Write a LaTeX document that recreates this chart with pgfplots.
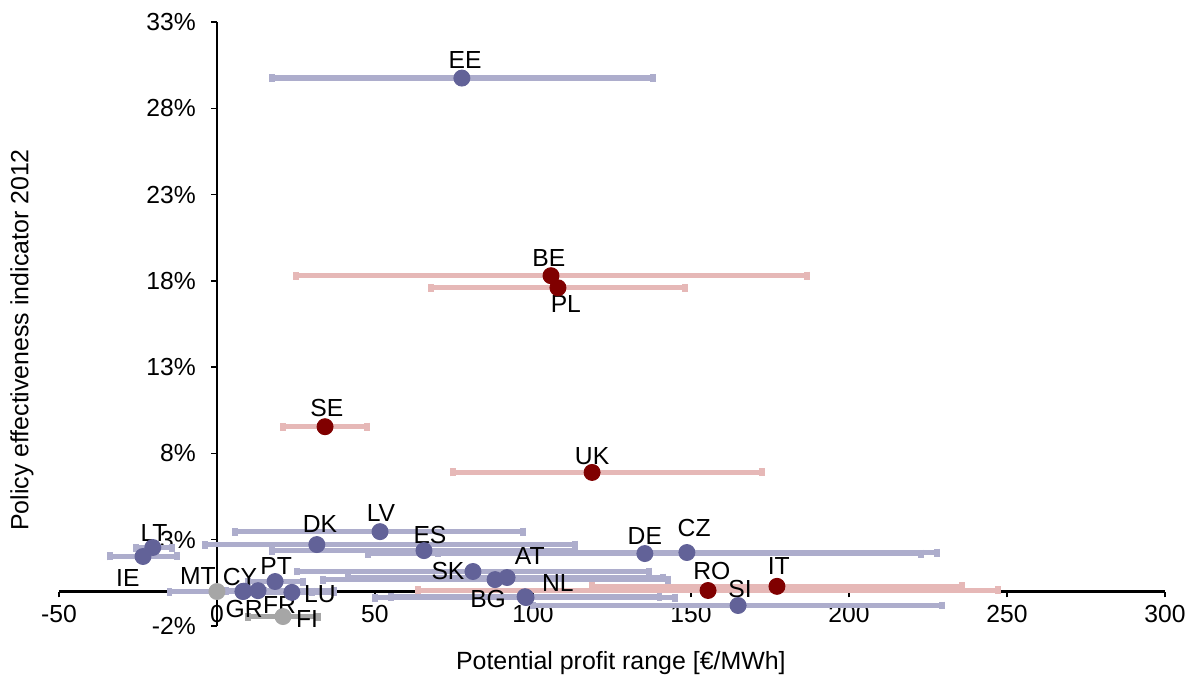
\documentclass[border=0pt]{standalone}
\usepackage{fontspec}
\setmainfont{Liberation Sans}
\usepackage{pgfplots}
\usepackage{pgfplotstable}
\pgfplotsset{compat=1.18}
\definecolor{bluept}{RGB}{98,98,152}
\definecolor{bluebar}{RGB}{173,173,204}
\definecolor{redpt}{RGB}{128,0,0}
\definecolor{redbar}{RGB}{230,184,183}
\definecolor{greypt}{RGB}{166,166,166}

% x y em ep  (horizontal range = x-em .. x+ep)
\pgfplotstableread{
x y em ep
77.5 29.75 60.1 60.4
51.6 3.47 45.9 45.2
31.6 2.72 35.4 81.7
65.5 2.37 48.1 47.8
-20.3 2.55 5.3 6.1
-23.4 2.03 10.5 10.7
135.4 2.20 87.6 87.4
148.7 2.26 78.7 79.1
18.4 0.58 8.6 8.8
81.0 1.16 55.7 55.7
91.8 0.81 50.3 49.3
88.0 0.69 54.5 54.7
8.2 0.00 23.2 21.8
8.5 0.02 6.5 6.5
13.0 0.05 10.0 24.0
23.7 -0.05 13.7 13.3
97.8 -0.35 47.8 47.2
97.5 -0.30 42.5 42.5
164.9 -0.81 64.9 64.5
}\bluedata

\pgfplotstableread{
x y em ep
105.7 18.30 80.7 81.0
107.9 17.60 40.2 40.2
34.2 9.55 13.3 13.3
118.7 6.90 44.0 53.8
155.4 0.06 91.8 91.8
177.2 0.30 58.5 58.6
}\reddata

\pgfplotstableread{
x y em ep
20.9 -1.45 11.1 11.1
}\greybars

\pgfplotstableread{
x y
0 0
20.9 -1.45
}\greydata

\begin{document}
\begin{tikzpicture}[font=\fontsize{10.5}{12.6}\selectfont]
\begin{axis}[
  scale only axis, width=470.6pt, height=257pt,
  xmin=-50, xmax=300, ymin=-2, ymax=33,
  axis lines=middle,
  axis line style={-, line width=0.9pt, black},
  xtick={-50,0,50,100,150,200,250,300},
  xticklabels={-50,0,50,100,150,200,250,300},
  ytick={-2,3,8,13,18,23,28,33},
  yticklabels={-2\%,3\%,8\%,13\%,18\%,23\%,28\%,33\%},
  hide obscured x ticks=false, hide obscured y ticks=false,
  tick align=outside, major tick length=2.5pt,
  tick style={black, line width=0.6pt},
  ticklabel style={font=\fontsize{10.5}{12.6}\selectfont},
  yticklabel style={xshift=-3pt},
  clip=false,
  xlabel={Potential profit range [€/MWh]},
  ylabel={Policy effectiveness indicator 2012},
  label style={font=\fontsize{10.6}{12.7}\selectfont},
  xlabel style={at={(rel axis cs:0.508,-0.0613)}, anchor=center},
  ylabel style={at={(rel axis cs:-0.0335,0.4735)}, anchor=center, rotate=90},
]
\path (rel axis cs:-0.0533,-0.0911) rectangle (rel axis cs:1.0289,1.0364);

% error bars
\addplot[only marks, mark=none, error bars/.cd, x dir=both, x explicit,
  error bar style={line width=2.2pt, color=bluebar},
  error mark=|, error mark options={line width=2.4pt, mark size=1.7pt, color=bluebar}]
  table[x=x, y=y, x error minus=em, x error plus=ep] {\bluedata};
\addplot[only marks, mark=none, error bars/.cd, x dir=both, x explicit,
  error bar style={line width=2.2pt, color=greypt},
  error mark=|, error mark options={line width=2.4pt, mark size=1.7pt, color=greypt}]
  table[x=x, y=y, x error minus=em, x error plus=ep] {\greybars};
\addplot[only marks, mark=none, error bars/.cd, x dir=both, x explicit,
  error bar style={line width=2.2pt, color=redbar},
  error mark=|, error mark options={line width=2.4pt, mark size=1.7pt, color=redbar}]
  table[x=x, y=y, x error minus=em, x error plus=ep] {\reddata};

% points
\addplot[only marks, mark=*, mark size=3.4pt, color=bluept, mark options={draw=none, fill=bluept}]
  table[x=x, y=y] {\bluedata};
\addplot[only marks, mark=*, mark size=3.4pt, color=greypt, mark options={draw=none, fill=greypt}]
  table[x=x, y=y] {\greydata};
\addplot[only marks, mark=*, mark size=3.4pt, color=redpt, mark options={draw=none, fill=redpt}]
  table[x=x, y=y] {\reddata};

% labels
\node at (axis cs:78.5,30.8) {EE};
\node at (axis cs:105,19.33) {BE};
\node at (axis cs:110.4,16.67) {PL};
\node at (axis cs:34.8,10.65) {SE};
\node at (axis cs:118.7,7.87) {UK};
\node at (axis cs:51.9,4.57) {LV};
\node at (axis cs:32.6,3.94) {DK};
\node at (axis cs:-19.9,3.41) {LT};
\node at (axis cs:67.4,3.3) {ES};
\node at (axis cs:135.4,3.24) {DE};
\node at (axis cs:151,3.7) {CZ};
\node at (axis cs:-28.2,0.81) {IE};
\node at (axis cs:-6,0.87) {MT};
\node at (axis cs:7.3,0.87) {CY};
\node at (axis cs:18.7,1.5) {PT};
\node at (axis cs:73.1,1.16) {SK};
\node at (axis cs:99,2.03) {AT};
\node at (axis cs:107.9,0.52) {NL};
\node at (axis cs:156.6,1.16) {RO};
\node at (axis cs:177.8,1.45) {IT};
\node at (axis cs:165.5,0.12) {SI};
\node at (axis cs:8.6,-1.04) {GR};
\node at (axis cs:19.8,-0.81) {FR};
\node at (axis cs:32.6,-0.17) {LU};
\node at (axis cs:85.8,-0.46) {BG};
\node at (axis cs:28.5,-1.62) {FI};
\end{axis}
\end{tikzpicture}
\end{document}
